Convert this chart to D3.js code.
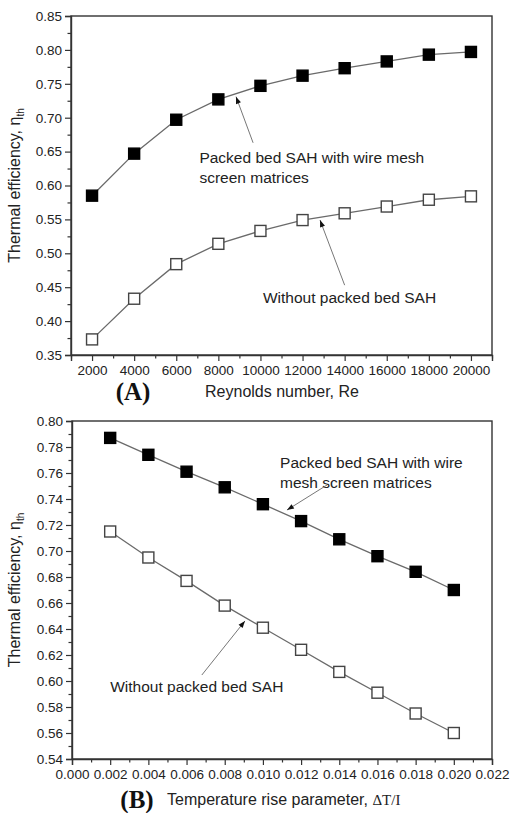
<!DOCTYPE html>
<html>
<head>
<meta charset="utf-8">
<script src="https://cdn.jsdelivr.net/npm/d3@7"></script>
<style>
  body { margin: 0; background: #fff; }
  svg { display: block; }
</style>
</head>
<body>
<svg id="chart"></svg>
<script>
// Panel A: efficiency vs Reynolds number
const reynolds = [2000, 4000, 6000, 8000, 10000, 12000, 14000, 16000, 18000, 20000];
const effPackedA = [0.585, 0.647, 0.697, 0.727, 0.747, 0.762, 0.773, 0.783, 0.793, 0.797];
const effPlainA = [0.373, 0.433, 0.484, 0.514, 0.533, 0.549, 0.559, 0.569, 0.579, 0.584];
const reTicks = [2000, 4000, 6000, 8000, 10000, 12000, 14000, 16000, 18000, 20000];
const effTicksA = [0.35, 0.40, 0.45, 0.50, 0.55, 0.60, 0.65, 0.70, 0.75, 0.80, 0.85];

// Panel B: efficiency vs temperature rise parameter
const tempRise = [0.002, 0.004, 0.006, 0.008, 0.010, 0.012, 0.014, 0.016, 0.018, 0.020];
const effPackedB = [0.787, 0.774, 0.761, 0.749, 0.736, 0.723, 0.709, 0.696, 0.684, 0.670];
const effPlainB = [0.715, 0.695, 0.677, 0.658, 0.641, 0.624, 0.607, 0.591, 0.575, 0.560];
const trTicks = [0.000, 0.002, 0.004, 0.006, 0.008, 0.010, 0.012, 0.014, 0.016, 0.018, 0.020, 0.022];
const effTicksB = [0.54, 0.56, 0.58, 0.60, 0.62, 0.64, 0.66, 0.68, 0.70, 0.72, 0.74, 0.76, 0.78, 0.80];

const W = 510, H = 813;
const sans = "'Liberation Sans', Arial, sans-serif";
const serif = "'Liberation Serif', 'Times New Roman', serif";
const lineColor = "#6a6a6a";
const axisColor = "#333";

const svg = d3.select("#chart").attr("width", W).attr("height", H);

function drawPanel(p) {
  const x = d3.scaleLinear().domain(p.xDomain).range([p.left, p.right]);
  const y = d3.scaleLinear().domain(p.yDomain).range([p.bottom, p.top]);
  const g = svg.append("g");

  // frame
  g.append("rect")
    .attr("x", p.left).attr("y", p.top)
    .attr("width", p.right - p.left).attr("height", p.bottom - p.top)
    .attr("fill", "none").attr("stroke", axisColor).attr("stroke-width", 1.4);

  // x axis (major + minor ticks, outward)
  const xAxis = g.append("g").attr("transform", `translate(0,${p.bottom})`)
    .call(d3.axisBottom(x).tickValues(p.xTicks).tickFormat(p.xFormat).tickSize(6).tickPadding(4));
  g.append("g").attr("transform", `translate(0,${p.bottom})`)
    .call(d3.axisBottom(x).tickValues(p.xMinor).tickFormat("").tickSize(3.5))
    .call(a => a.select(".domain").remove());

  const yAxis = g.append("g").attr("transform", `translate(${p.left},0)`)
    .call(d3.axisLeft(y).tickValues(p.yTicks).tickFormat(d3.format(".2f")).tickSize(6).tickPadding(3));
  g.append("g").attr("transform", `translate(${p.left},0)`)
    .call(d3.axisLeft(y).tickValues(p.yMinor).tickFormat("").tickSize(3.5))
    .call(a => a.select(".domain").remove());

  g.selectAll(".domain").attr("stroke", axisColor).attr("stroke-width", 1.4);
  g.selectAll(".tick line").attr("stroke", axisColor).attr("stroke-width", 1.2);
  g.selectAll(".tick text").attr("font-family", sans).attr("font-size", 13.5).attr("fill", "#222");

  // series
  const line = d3.line().x(d => x(d[0])).y(d => y(d[1]));
  p.series.forEach(s => {
    const pts = d3.zip(p.xs, s.values);
    g.append("path").datum(pts)
      .attr("d", line).attr("fill", "none")
      .attr("stroke", lineColor).attr("stroke-width", 1.3);
    const m = 11;
    g.selectAll(null).data(pts).enter().append("rect")
      .attr("x", d => x(d[0]) - m / 2).attr("y", d => y(d[1]) - m / 2)
      .attr("width", m).attr("height", m)
      .attr("fill", s.filled ? "#000" : "#fff")
      .attr("stroke", s.filled ? "#000" : "#444").attr("stroke-width", 1.4);
  });

  // annotations
  p.notes.forEach(n => {
    const t = g.append("text")
      .attr("font-family", sans).attr("font-size", 15.5).attr("fill", "#222");
    n.lines.forEach((ln, i) => {
      t.append("tspan").attr("x", x(n.tx)).attr("y", y(n.ty) + i * 20).text(ln);
    });
    const x1 = x(n.from[0]), y1 = y(n.from[1]), x2 = x(n.to[0]), y2 = y(n.to[1]);
    g.append("line").attr("x1", x1).attr("y1", y1).attr("x2", x2).attr("y2", y2)
      .attr("stroke", "#777").attr("stroke-width", 1);
    const ang = Math.atan2(y2 - y1, x2 - x1);
    const L = 7, w = 2.6;
    const bx = x2 - L * Math.cos(ang), by = y2 - L * Math.sin(ang);
    const px = -Math.sin(ang) * w, py = Math.cos(ang) * w;
    g.append("path")
      .attr("d", `M${x2},${y2}L${bx + px},${by + py}L${bx - px},${by - py}Z`)
      .attr("fill", "#111");
  });

  // axis titles
  const yt = g.append("text")
    .attr("transform", `translate(20,${(p.top + p.bottom) / 2}) rotate(-90)`)
    .attr("text-anchor", "middle").attr("font-family", sans).attr("font-size", 16).attr("fill", "#222");
  yt.append("tspan").text("Thermal efficiency, η");
  yt.append("tspan").attr("font-size", 10).attr("dy", 4).text("th");

  g.append("text").attr("x", p.panelX).attr("y", p.titleY)
    .attr("text-anchor", "middle").attr("font-family", serif).attr("font-weight", "bold")
    .attr("font-size", 25).attr("fill", "#111").text(p.panel);

  const xt = g.append("text").attr("x", p.xTitleX).attr("y", p.titleY - 3)
    .attr("text-anchor", p.xTitleAnchor).attr("font-family", sans).attr("font-size", 16).attr("fill", "#222");
  xt.append("tspan").text(p.xTitle);
  if (p.xTitleSerif) xt.append("tspan").attr("font-family", serif).attr("font-size", 15).text(p.xTitleSerif);
}

drawPanel({
  left: 71, right: 492, top: 16, bottom: 355,
  xDomain: [1000, 21000], yDomain: [0.35, 0.85],
  xTicks: reTicks, xMinor: d3.range(1000, 21001, 2000), xFormat: d3.format("d"),
  yTicks: effTicksA, yMinor: d3.range(0.375, 0.85, 0.05),
  xs: reynolds,
  series: [{ values: effPackedA, filled: true }, { values: effPlainA, filled: false }],
  notes: [
    { lines: ["Packed bed SAH with wire mesh", "screen matrices"], tx: 7100, ty: 0.633,
      from: [9650, 0.663], to: [8840, 0.731] },
    { lines: ["Without packed bed SAH"], tx: 10120, ty: 0.427,
      from: [14000, 0.453], to: [12830, 0.549] }
  ],
  panel: "(A)", panelX: 133, titleY: 400,
  xTitle: "Reynolds number, Re", xTitleX: 282, xTitleAnchor: "middle"
});

drawPanel({
  left: 72, right: 492, top: 421, bottom: 759,
  xDomain: [0, 0.022], yDomain: [0.54, 0.80],
  xTicks: trTicks, xMinor: d3.range(0.001, 0.022, 0.002), xFormat: d3.format(".3f"),
  yTicks: effTicksB, yMinor: d3.range(0.55, 0.80, 0.02),
  xs: tempRise,
  series: [{ values: effPackedB, filled: true }, { values: effPlainB, filled: false }],
  notes: [
    { lines: ["Packed bed SAH with wire", "mesh screen matrices"], tx: 0.0109, ty: 0.7638,
      from: [0.01336, 0.7508], to: [0.01126, 0.7315] },
    { lines: ["Without packed bed SAH"], tx: 0.002, ty: 0.5915,
      from: [0.0068, 0.6046], to: [0.00906, 0.6462] }
  ],
  panel: "(B)", panelX: 137, titleY: 808,
  xTitle: "Temperature rise parameter, ", xTitleSerif: "ΔT/I", xTitleX: 167, xTitleAnchor: "start"
});
</script>
</body>
</html>
